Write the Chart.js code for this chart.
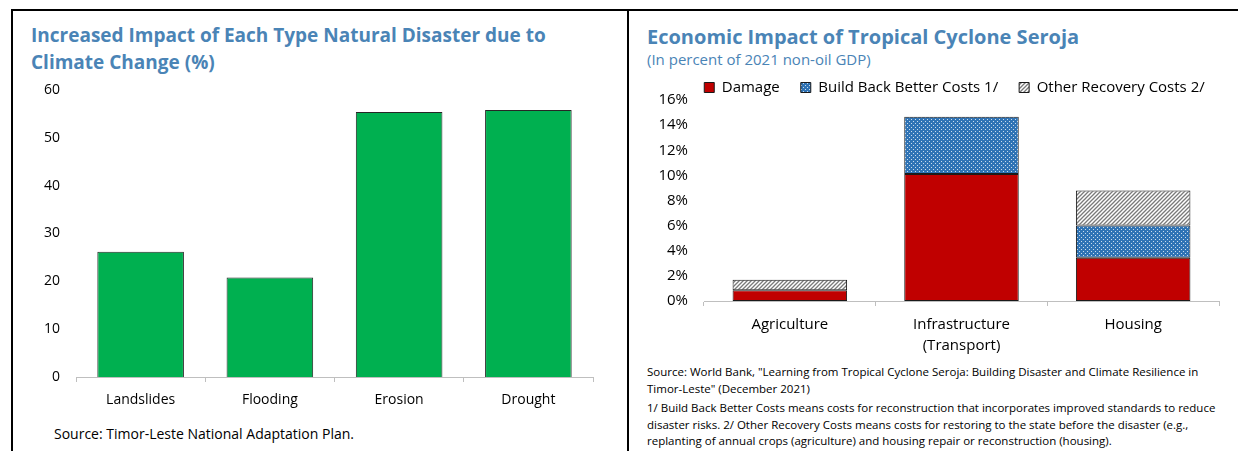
<!DOCTYPE html>
<html>
<head>
<meta charset="utf-8">
<script src="https://cdn.jsdelivr.net/npm/chart.js@4.4.1/dist/chart.umd.min.js"></script>
<style>
body { margin: 0; width: 1238px; height: 451px; background: #fff; position: relative; overflow: hidden; font-family: 'Open Sans', sans-serif; }
.rule { position: absolute; background: #000; }
.title { position: absolute; color: #4a84b6; font-weight: bold; font-size: 20px; line-height: 27px; white-space: nowrap; }
.sub { position: absolute; color: #4a84b6; font-size: 15px; white-space: nowrap; }
.note { position: absolute; font-size: 14px; color: #000; white-space: nowrap; }
.foot { position: absolute; font-size: 11.5px; line-height: 16.5px; color: #000; white-space: nowrap; }
.box { position: absolute; }
</style>
</head>
<body>
<div class="rule" style="left:11px;top:9px;width:1227px;height:2px"></div>
<div class="rule" style="left:11px;top:9px;width:2px;height:442px"></div>
<div class="rule" style="left:627px;top:9px;width:2px;height:442px"></div>

<div class="title" style="left:31px;top:22px;font-size:19px">Increased Impact of Each Type Natural Disaster due to<br>Climate Change (%)</div>
<div class="box" style="left:12px;top:78px;width:612px;height:338px"><canvas id="disasterChart"></canvas></div>
<div class="note" style="left:54px;top:424px">Source: Timor-Leste National Adaptation Plan.</div>

<div class="title" style="left:647px;top:23px">Economic Impact of Tropical Cyclone Seroja</div>
<div class="sub" style="left:647px;top:49px">(In percent of 2021 non-oil GDP)</div>
<div class="box" style="left:630px;top:54px;width:600px;height:306px"><canvas id="serojaChart"></canvas></div>
<div class="foot" style="left:647px;top:364px">Source: World Bank, "Learning from Tropical Cyclone Seroja: Building Disaster and Climate Resilience in<br>Timor-Leste" (December 2021)</div>
<div class="foot" style="left:647px;top:400px">1/ Build Back Better Costs means costs for reconstruction that incorporates improved standards to reduce<br>disaster risks. 2/ Other Recovery Costs means costs for restoring to the state before the disaster (e.g.,<br>replanting of annual crops (agriculture) and housing repair or reconstruction (housing).</div>

<script>
// left chart
const disasterTypes = ['Landslides', 'Flooding', 'Erosion', 'Drought'];
const impactIncrease = [26.2, 20.8, 55.4, 55.8];

// right chart
const sectors = ['Agriculture', ['Infrastructure', '(Transport)'], 'Housing'];
const damage = [0.85, 10.1, 3.45];
const buildBackBetter = [null, 4.57, 2.56];
const otherRecovery = [0.85, null, 2.78];

const font = { family: "'Open Sans', sans-serif", size: 14 };
const fontR = { family: "'Open Sans', sans-serif", size: 15 };
Chart.defaults.color = '#000';

function dotPattern() {
    const c = document.createElement('canvas');
    c.width = 4; c.height = 4;
    const g = c.getContext('2d');
    g.fillStyle = '#2f73b5';
    g.fillRect(0, 0, 4, 4);
    g.fillStyle = 'rgba(255,255,255,0.75)';
    g.fillRect(1, 1, 1, 1);
    g.fillRect(3, 3, 1, 1);
    return g.createPattern(c, 'repeat');
}

function hatchPattern() {
    const c = document.createElement('canvas');
    c.width = 4; c.height = 4;
    const g = c.getContext('2d');
    g.fillStyle = '#fff';
    g.fillRect(0, 0, 4, 4);
    g.strokeStyle = '#7a7a7a';
    g.lineWidth = 1.3;
    g.beginPath();
    g.moveTo(0, 4); g.lineTo(4, 0);
    g.moveTo(-1, 1); g.lineTo(1, -1);
    g.moveTo(3, 5); g.lineTo(5, 3);
    g.stroke();
    return g.createPattern(c, 'repeat');
}

// nudge the legend box over the plot like in the original
const legendShift = {
    id: 'legendShift',
    afterLayout(chart) {
        const lg = chart.legend;
        lg.left += 30; lg.right += 30;
        lg.top += 5; lg.bottom += 5;
    }
};

const axisGray = '#bfbfbf';

new Chart(document.getElementById('disasterChart'), {
    type: 'bar',
    data: {
        labels: disasterTypes,
        datasets: [{
            data: impactIncrease,
            backgroundColor: '#00b050',
            borderColor: '#262626',
            borderWidth: 1,
            borderSkipped: 'bottom',
            categoryPercentage: 0.67,
            barPercentage: 1
        }]
    },
    options: {
        responsive: true,
        maintainAspectRatio: false,
        animation: false,
        layout: { padding: { left: 0, right: 31, top: 12, bottom: 0 } },
        plugins: { legend: { display: false }, tooltip: { enabled: false } },
        scales: {
            x: {
                grid: { display: true, drawOnChartArea: false, offset: true, tickLength: 5, color: axisGray },
                border: { color: axisGray },
                ticks: { font: font, padding: 10 },
                afterFit: s => { s.height = 39; }
            },
            y: {
                min: 0, max: 60,
                ticks: { stepSize: 10, font: font, padding: 16, autoSkip: false },
                grid: { display: false, drawTicks: false },
                border: { display: false },
                afterFit: s => { s.width = 64; s.paddingTop = 0; s.paddingBottom = 0; }
            }
        }
    }
});

new Chart(document.getElementById('serojaChart'), {
    type: 'bar',
    data: {
        labels: sectors,
        datasets: [
            { label: 'Damage', data: damage, backgroundColor: '#c00000' },
            { label: 'Build Back Better Costs 1/', data: buildBackBetter, backgroundColor: dotPattern() },
            { label: 'Other Recovery Costs 2/', data: otherRecovery, backgroundColor: hatchPattern() }
        ].map(d => Object.assign(d, {
            borderColor: '#1a1a1a', borderWidth: 1, borderSkipped: false,
            categoryPercentage: 0.667, barPercentage: 1
        }))
    },
    plugins: [legendShift],
    options: {
        responsive: true,
        maintainAspectRatio: false,
        animation: false,
        layout: { padding: { left: 0, right: 11, top: 0, bottom: 0 } },
        plugins: {
            tooltip: { enabled: false },
            legend: {
                position: 'top',
                labels: { font: fontR, boxWidth: 10, boxHeight: 10, padding: 21 }
            }
        },
        scales: {
            x: {
                stacked: true,
                grid: { display: true, drawOnChartArea: false, offset: true, tickLength: 5, color: axisGray },
                border: { color: axisGray },
                ticks: { font: Object.assign({ lineHeight: 1.35 }, fontR), padding: 9, maxRotation: 0 },
                afterFit: s => { s.height = 59; }
            },
            y: {
                stacked: true,
                min: 0, max: 16,
                ticks: { stepSize: 2, font: fontR, padding: 16, autoSkip: false, callback: v => v + '%' },
                grid: { display: false, drawTicks: false },
                border: { display: false },
                afterFit: s => { s.width = 74; s.paddingTop = 0; s.paddingBottom = 0; }
            }
        }
    }
});
</script>
</body>
</html>
